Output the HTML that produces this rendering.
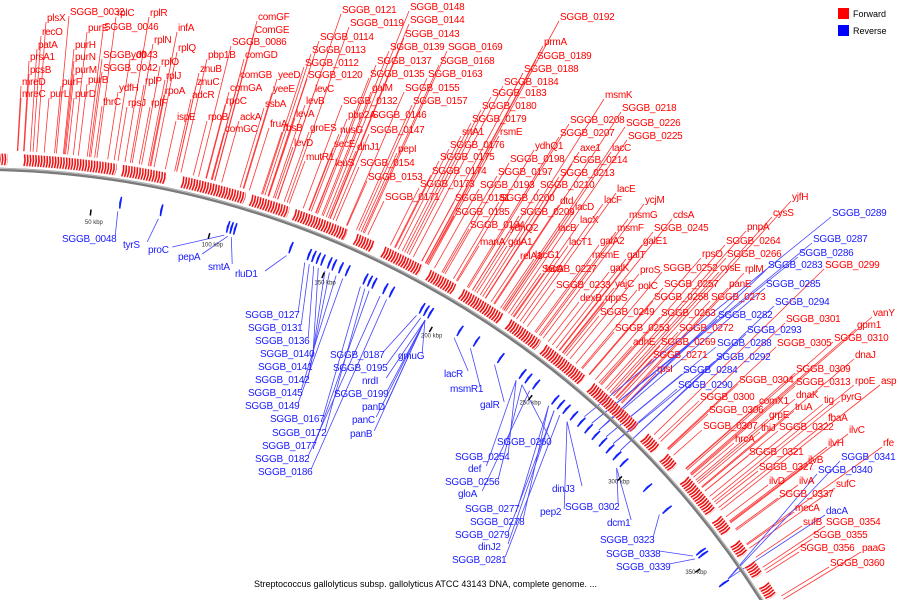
<!DOCTYPE html>
<html><head><meta charset="utf-8"><style>
html,body{margin:0;padding:0;background:#fff;width:900px;height:600px;overflow:hidden}
svg{display:block;overflow:hidden}
svg text{font-family:"Liberation Sans",sans-serif}
.lab{font-size:10px;letter-spacing:-0.25px}
</style></head><body>
<svg id="map" width="900" height="600" viewBox="0 0 900 600" xmlns="http://www.w3.org/2000/svg">
<g id="lines"></g>
<g id="ring"></g>
<g id="fwd"></g>
<g id="rev"></g>
<g id="ticks"></g>
<g id="labels"></g>
<g>
<rect x="838" y="8" width="11" height="11" fill="#f00"/>
<text x="853" y="17" font-size="9" fill="#000">Forward</text>
<rect x="838" y="25" width="11" height="11" fill="#00f"/>
<text x="853" y="34" font-size="9" fill="#000">Reverse</text>
</g>
<text x="254" y="587" font-size="9" fill="#000">Streptococcus gallolyticus subsp. gallolyticus ATCC 43143 DNA, complete genome. ...</text>
</svg>
<script>
const CX=-25, CY=1102, R=933, DEG_PER_KBP=0.1542, OFF=-0.3;
const fwdClusters=[[10,15],[21,58],[60,78],[84,110],[112,128],[130,152],[156,164],[168,185],[188,200],[203,222],[225,240],[242,262],[266,290],[295,302],[306,312],[318,335],[338,345],[350,356],[360,366],[370,376]];
const revGenes=[61,78,106,107.5,109,133,141,143,145,147,150,152,155,158,166,168,170,175,178,192,194,196,210,218,230,241,244,248,258,261,264,268,272,276,280,284,288,292,296,310,322,344,345.5,360];
const tickKbp=[50,100,150,200,250,300,350];
const tickLabels=["50 kbp","100 kbp","150 kbp","200 kbp","250 kbp","300 kbp","350 kbp"];
const redLabels=[["plsX",47,21],["SGGB_0032",70,15],["rplC",117,16],["rplR",150,16],["recO",42,35],["purE",88,31],["SGGB_0046",104,30],["infA",178,31],["patA",38,48],["purH",75,48],["rplN",154,43],["rplQ",178,51],["SGGB_0043",103,58],["prsA1",30,60],["purN",75,60],["ydfI",131,58],["SGGB_0042",103,71],["rplO",161,65],["pcsB",30,73],["purM",75,73],["rplJ",166,79],["rplP",145,84],["mreD",22,85],["purF",62,85],["purB",88,83],["ydfH",119,91],["rpoA",165,94],["mreC",22,97],["purL",50,97],["purD",75,97],["thrC",103,105],["rpsJ",128,106],["rplF",151,106],
["comGF",258,20],["ComGE",255,33],["SGGB_0086",232,45],["pbp1B",208,58],["comGD",245,58],["znuB",200,72],["comGB",240,78],["yeeD",278,78],["znuC",197,85],["comGA",230,91],["yeeE",273,92],["adcR",192,98],["rpoC",226,104],["ssbA",265,107],["ispE",177,120],["rpoB",208,120],["ackA",240,120],["comGC",225,132],["fruA",270,127],["rbsB",283,131],["levD",294,146],["mutR1",306,160],
["SGGB_0121",342,13],["SGGB_0119",350,26],["SGGB_0114",320,40],["SGGB_0113",312,53],["SGGB_0112",305,66],["SGGB_0120",308,78],["levC",315,92],["levB",306,104],["levA",296,117],["groES",310,131],
["SGGB_0148",410,10],["SGGB_0144",410,23],["SGGB_0143",405,37],["SGGB_0139",390,50],["SGGB_0137",377,64],["SGGB_0135",370,77],["SGGB_0169",448,50],["SGGB_0168",440,64],["SGGB_0163",428,77],["galM",372,91],["SGGB_0155",405,91],["SGGB_0132",343,104],["SGGB_0157",413,104],["pbp2A",348,118],["SGGB_0146",372,118],["nusG",340,133],["SGGB_0147",370,133],["secE",334,147],["dinJ1",357,150],["pepI",398,152],["leuS",335,166],["SGGB_0154",360,166],["SGGB_0153",368,180],["SGGB_0171",385,200],["SGGB_0173",420,187],["SGGB_0174",432,174],["SGGB_0175",440,160],["SGGB_0176",450,148],["srtA1",462,135],["rsmE",500,135],["SGGB_0179",472,122],["SGGB_0180",482,109],["SGGB_0183",492,96],["SGGB_0184",504,85],["SGGB_0188",524,72],["SGGB_0189",537,59],["prmA",544,45],["SGGB_0192",560,20],
["SGGB_0181",455,201],["SGGB_0185",455,215],["SGGB_0194",470,228],["SGGB_0193",480,188],["SGGB_0197",498,175],["SGGB_0198",510,162],["ydhQ1",535,149],["SGGB_0200",500,201],["SGGB_0209",520,215],["SGGB_0210",540,188],["SGGB_0213",560,176],["SGGB_0214",573,163],["axe1",580,151],["lacC",612,151],["SGGB_0207",560,136],["SGGB_0208",570,123],["SGGB_0226",626,126],["SGGB_0225",628,139],["SGGB_0218",622,111],["msmK",605,98],["dtd",560,204],["lacD",575,210],["lacE",617,192],["lacF",604,203],["ycjM",645,203],["lacX",580,223],["manA",480,245],["galA1",508,245],["lacB",558,231],["ydhQ2",510,231],["relA1",520,259],["lacG1",535,258],["lacA",545,272],["lacT1",569,245],["msmG",629,218],["cdsA",673,218],["msmF",617,231],["SGGB_0245",654,231],["msmE",592,258],["galT",627,258],["galA2",600,244],["galE1",643,244],["galK",610,271],["SGGB_0227",542,272],["SGGB_0233",556,288],["yajC",615,287],["proS",640,273],["polC",638,289],["dexB",580,301],["uppS",605,301],
["yjfH",792,200],["cysS",773,216],["pnpA",747,230],["SGGB_0264",726,244],["rpsO",702,257],["SGGB_0266",727,257],["SGGB_0252",663,271],["cysE",720,271],["rplM",745,272],["SGGB_0299",825,268],["SGGB_0257",664,287],["panE",729,287],["SGGB_0258",654,300],["SGGB_0273",711,300],["SGGB_0249",600,315],["SGGB_0263",661,316],["SGGB_0253",615,331],["SGGB_0272",679,331],["adhE",633,345],["SGGB_0269",661,345],["SGGB_0271",653,358],["rpsI",657,372],
["vanY",873,316],["gpm1",857,328],["SGGB_0310",834,341],["SGGB_0301",786,322],["SGGB_0305",777,346],["dnaJ",855,358],["SGGB_0309",796,372],["SGGB_0313",796,385],["rpoE",855,384],["asp",881,384],["SGGB_0304",739,383],["dnaK",796,398],["pyrG",841,400],["tig",824,403],["comX1",759,404],["SGGB_0300",700,400],["SGGB_0306",709,413],["grpE",769,418],["truA",795,410],["fbaA",828,421],["SGGB_0307",703,429],["thiJ",761,431],["SGGB_0322",779,430],["ilvC",849,433],["hrcA",735,442],["ilvH",828,446],["rfe",883,446],["SGGB_0321",749,455],["ilvB",808,463],["SGGB_0327",759,470],["ilvD",769,484],["ilvA",799,484],["sufC",836,487],["SGGB_0337",779,497],["mecA",795,511],["sufB",803,525],["SGGB_0354",826,525],["SGGB_0355",813,538],["SGGB_0356",800,551],["paaG",862,551],["SGGB_0360",830,566]];
const blueLabels=[["SGGB_0048",62,242,61,"in"],["tyrS",123,248,78,"in"],["proC",148,253,106,"in"],["pepA",178,260,107.5,"in"],["smtA",208,270,109,"in"],["rluD1",235,277,133,"in"],
["SGGB_0127",245,318,141,"in"],["SGGB_0131",248,331,143,"in"],["SGGB_0136",255,344,145,"in"],["SGGB_0140",260,357,147,"in"],["SGGB_0141",258,370,150,"in"],["SGGB_0142",255,383,152,"in"],["SGGB_0145",248,396,155,"in"],["SGGB_0149",245,409,158,"in"],["SGGB_0167",270,422,166,"in"],["SGGB_0172",272,436,168,"in"],["SGGB_0177",262,449,170,"in"],["SGGB_0182",255,462,175,"in"],["SGGB_0186",258,475,178,"in"],
["SGGB_0187",330,358,192,"in"],["SGGB_0195",333,371,194,"in"],["nrdI",362,384,196,"in"],["SGGB_0199",334,397,196,"in"],["panD",362,410,196,"in"],["panC",352,423,196,"in"],["panB",350,437,196,"in"],["gmuG",398,359,196,"in"],
["lacR",444,377,210,"in"],["msmR1",450,392,218,"in"],["galR",480,408,230,"in"],["SGGB_0260",497,445,244,"in"],["SGGB_0254",455,460,241,"in"],["def",468,472,241,"in"],["SGGB_0256",445,485,244,"in"],["gloA",458,497,248,"in"],["SGGB_0277",465,512,258,"in"],["SGGB_0278",470,525,258,"in"],["SGGB_0279",455,538,261,"in"],["dinJ2",478,550,261,"in"],["SGGB_0281",452,563,264,"in"],["pep2",540,515,268,"in"],["dinJ3",552,492,268,"in"],["SGGB_0302",565,510,296,"in"],["dcm1",607,526,296,"in"],["SGGB_0323",600,543,322,"in"],["SGGB_0338",606,557,344,"in"],["SGGB_0339",616,570,345.5,"in"],
["SGGB_0289",832,216,272,"out"],["SGGB_0287",813,242,276,"out"],["SGGB_0286",799,256,276,"out"],["SGGB_0283",768,268,280,"out"],["SGGB_0285",766,287,280,"out"],["SGGB_0294",775,305,292,"out"],["SGGB_0282",718,318,280,"out"],["SGGB_0293",747,333,292,"out"],["SGGB_0288",717,346,284,"out"],["SGGB_0292",716,360,288,"out"],["SGGB_0284",683,373,284,"out"],["SGGB_0290",678,388,288,"out"],["SGGB_0341",841,460,360,"out"],["SGGB_0340",818,473,360,"out"],["dacA",826,514,360,"out"]];

const NS="http://www.w3.org/2000/svg";
function ang(k){return (k*DEG_PER_KBP+OFF)*Math.PI/180;}
function P(k,r){const a=ang(k);return [CX+r*Math.sin(a),CY-r*Math.cos(a)];}
function mk(tag,parent){const e=document.createElementNS(NS,tag);document.getElementById(parent).appendChild(e);return e;}
function kOf(x,y){const a=Math.atan2(x-CX,CY-y)*180/Math.PI;return (a-OFF)/DEG_PER_KBP;}
function arcD(r){const a=P(-10,r),b=P(385,r);return "M"+a[0].toFixed(1)+","+a[1].toFixed(1)+" A"+r+","+r+" 0 0 1 "+b[0].toFixed(1)+","+b[1].toFixed(1);}

const ringOuter=mk("path","ring");


ringOuter.setAttribute("d",arcD(R));
ringOuter.setAttribute("fill","none");ringOuter.setAttribute("stroke","#7a7a7a");ringOuter.setAttribute("stroke-width","3.5");
const ringIn=mk("path","ring");


ringIn.setAttribute("d",arcD(R+1));
ringIn.setAttribute("fill","none");ringIn.setAttribute("stroke","#bbb");ringIn.setAttribute("stroke-width","1");

function arrow(k0,k1,r0,r1,fill,group,name){
  const km=k1-0.35;
  const pts=[P(k0,r0),P(km,r0),P(k1,(r0+r1)/2),P(km,r1),P(k0,r1),P(k0+0.3,(r0+r1)/2)];
  const p=mk("polygon",group);
  
  
  p.setAttribute("points",pts.map(q=>q[0].toFixed(1)+","+q[1].toFixed(1)).join(" "));
  p.setAttribute("fill",fill);p.setAttribute("stroke","#fff");p.setAttribute("stroke-width","0.4");
}
fwdClusters.forEach(c=>{
  for(let k=c[0];k<c[1];k+=1.1){arrow(k,Math.min(k+1.1,c[1]),R+4,R+16,"#ee1010","fwd","forward-gene");}
});
revGenes.forEach(k=>{
  const pts=[P(k+0.9,R-16),P(k+0.3,R-16),P(k,R-22),P(k+0.3,R-28),P(k+0.9,R-28)];
  const p=mk("polygon","rev");
  
  
  p.setAttribute("points",pts.map(q=>q[0].toFixed(1)+","+q[1].toFixed(1)).join(" "));
  p.setAttribute("fill","#1020ff");
});
tickKbp.forEach((k,i)=>{
  const a=P(k,R-33),b=P(k,R-39);
  const l=mk("line","ticks");
  
  
  l.setAttribute("x1",a[0]);l.setAttribute("y1",a[1]);l.setAttribute("x2",b[0]);l.setAttribute("y2",b[1]);
  l.setAttribute("stroke","#000");l.setAttribute("stroke-width","1.5");
  const t=mk("text","ticks");
  
  
  const q=P(k-1.8,R-48);
  t.setAttribute("x",q[0]);t.setAttribute("y",q[1]);t.setAttribute("font-size","6");t.setAttribute("fill","#333");
  t.textContent=tickLabels[i];
});
redLabels.forEach(d=>{
  const t=mk("text","labels");
  
  
  t.setAttribute("class","lab");t.setAttribute("x",d[1]);t.setAttribute("y",d[2]);t.setAttribute("fill","#f00");
  t.textContent=d[0];
  const x0=d[1]-1,y0=d[2]+1;const k=kOf(x0,y0);const e=P(k-0.3,R+19);
  const l=mk("line","lines");
  
  
  l.setAttribute("x1",x0);l.setAttribute("y1",y0);l.setAttribute("x2",e[0]);l.setAttribute("y2",e[1]);
  l.setAttribute("stroke","#f33");l.setAttribute("stroke-width","0.8");
});
blueLabels.forEach(d=>{
  const t=mk("text","labels");
  
  
  t.setAttribute("class","lab");t.setAttribute("x",d[1]);t.setAttribute("y",d[2]);t.setAttribute("fill","#1a1aff");
  t.textContent=d[0];
  const w=d[0].length*5.8;
  let x0,y0;
  if(d[4]==="in"){x0=d[1]+w+1;y0=d[2]-6;}else{x0=d[1]-1;y0=d[2]+1;}
  const e=P(d[3],d[4]==="in"?R-31:R-16);
  const l=mk("line","lines");
  
  
  l.setAttribute("x1",x0);l.setAttribute("y1",y0);l.setAttribute("x2",e[0]);l.setAttribute("y2",e[1]);
  l.setAttribute("stroke","#44f");l.setAttribute("stroke-width","0.8");
});
</script>
</body></html>
